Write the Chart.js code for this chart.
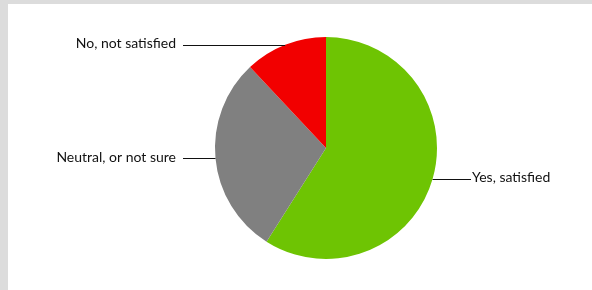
<!DOCTYPE html>
<html>
<head>
<meta charset="utf-8">
<script src="https://cdn.jsdelivr.net/npm/chart.js@4.4.0/dist/chart.umd.min.js"></script>
<style>
  html, body { margin: 0; padding: 0; background: #dcdcdc; }
  #panel { position: absolute; left: 8px; top: 4px; width: 584px; height: 286px; background: #fff; }
  #wrap { position: absolute; left: 0; top: 0; width: 592px; height: 290px; }
</style>
</head>
<body>
<div id="panel"></div>
<div id="wrap"><canvas id="pie"></canvas></div>
<script>
const labels = ["Yes, satisfied", "Neutral, or not sure", "No, not satisfied"];
const values = [59, 29, 12];
const colors = ["#6ec403", "#808080", "#f20000"];

// leader lines + labels beside the pie
const leaderLabels = {
  id: "leaderLabels",
  afterDraw(chart) {
    const ctx = chart.ctx;
    const arcs = chart.getDatasetMeta(0).data;
    ctx.save();
    ctx.strokeStyle = "#111";
    ctx.lineWidth = 1;
    ctx.fillStyle = "#111";
    ctx.font = "14px Lato";
    ctx.textBaseline = "middle";
    arcs.forEach((arc, i) => {
      const mid = (arc.startAngle + arc.endAngle) / 2;
      const px = arc.x + Math.cos(mid) * arc.outerRadius;
      const py = arc.y + Math.sin(mid) * arc.outerRadius;
      const right = Math.cos(mid) >= 0;
      const ex = right ? arc.x + 145 : arc.x - 143;
      ctx.beginPath();
      ctx.moveTo(px, Math.round(py) + 0.5);
      ctx.lineTo(ex, Math.round(py) + 0.5);
      ctx.stroke();
      ctx.textAlign = right ? "left" : "right";
      ctx.fillText(labels[i], right ? ex + 1 : ex - 7, py - 1);
    });
    ctx.restore();
  }
};

new Chart(document.getElementById("pie"), {
  type: "pie",
  plugins: [leaderLabels],
  data: {
    labels: labels,
    datasets: [{ data: values, backgroundColor: colors, borderWidth: 0 }]
  },
  options: {
    responsive: true,
    maintainAspectRatio: false,
    animation: false,
    layout: { padding: { left: 215, right: 155, top: 37, bottom: 31 } },
    plugins: { legend: { display: false }, tooltip: { enabled: false } }
  }
});
</script>
</body>
</html>
